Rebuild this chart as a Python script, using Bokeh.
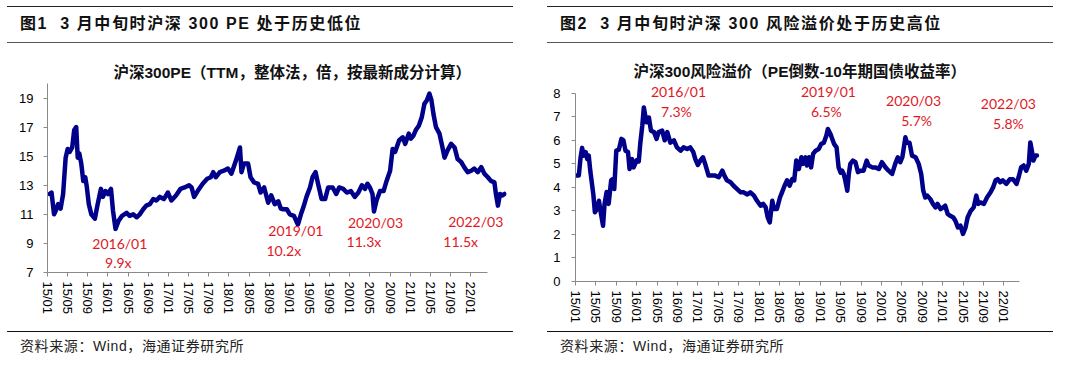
from bokeh.plotting import figure
from bokeh.layouts import column, row
from bokeh.models import Div, Range1d, FixedTicker, Label
from bokeh.embed import file_html
from bokeh.resources import INLINE

# ---------------- data ----------------
# x positions are in months on the chart's axis, counted from 15/01
x_tick_labels = ["15/01", "15/05", "15/09", "16/01", "16/05", "16/09", "17/01", "17/05",
                 "17/09", "18/01", "18/05", "18/09", "19/01", "19/05", "19/09", "20/01",
                 "20/05", "20/09", "21/01", "21/05", "21/09", "22/01"]

pe_x = [0.4, 0.8, 1.3, 1.7, 2.1, 2.6, 3.1, 3.6, 4.0, 4.4, 4.9, 5.3, 5.7, 6.0, 6.3, 6.7, 7.1, 7.5,
        7.8, 8.2, 8.7, 9.4, 9.9, 10.6, 11.0, 11.5, 12.0, 12.6, 13.0, 13.5, 14.1, 14.8, 15.7, 16.3,
        17.0, 17.7, 18.3, 19.0, 19.6, 20.3, 21.0, 21.6, 22.3, 23.1, 23.9, 24.6, 25.5, 26.4, 27.2,
        28.1, 28.6, 29.1, 29.8, 30.8, 31.7, 32.4, 32.9, 33.4, 34.2, 35.0, 35.8, 36.5, 37.4, 38.2,
        38.5, 39.0, 39.8, 40.3, 41.0, 41.8, 42.3, 43.0, 43.8, 44.4, 45.1, 45.8, 46.3, 46.8, 47.5,
        48.1, 48.9, 49.7, 50.3, 50.8, 51.4, 52.1, 52.6, 53.2, 53.7, 54.4, 55.1, 55.7, 56.6, 57.3,
        57.9, 58.7, 59.4, 60.2, 61.0, 61.7, 62.4, 63.0, 63.5, 64.0, 64.5, 64.8, 65.3, 66.0, 66.7,
        67.3, 68.0, 68.5, 69.0, 69.8, 70.5, 71.0, 71.7, 72.1, 72.6, 73.1, 73.7, 74.3, 74.8, 75.3,
        75.8, 76.2, 76.6, 77.1, 77.8, 78.3, 78.8, 79.4, 80.1, 80.8, 81.4, 82.1, 82.7, 83.4, 84.1,
        84.7, 85.4, 86.1, 86.7, 87.4, 88.0, 88.7, 89.0, 89.4, 89.8, 90.3, 90.7]
pe_y = [12.4, 12.5, 11.0, 11.3, 11.7, 11.4, 12.4, 14.9, 15.5, 15.3, 15.6, 16.8, 17.0, 14.9, 15.2,
        14.5, 13.3, 13.55, 12.9, 11.7, 11.0, 10.7, 11.6, 12.75, 12.2, 12.6, 12.4, 12.75, 11.25, 10.0,
        10.55, 10.9, 11.1, 10.9, 11.0, 10.8, 11.0, 11.35, 11.6, 11.7, 12.05, 11.95, 12.2, 12.05, 12.5,
        11.95, 12.3, 12.75, 12.85, 13.0, 12.85, 12.2, 12.6, 13.1, 13.45, 13.55, 13.9, 13.55, 13.9,
        14.0, 14.15, 13.8, 14.7, 15.6, 13.9, 14.5, 14.5, 13.55, 13.2, 13.1, 12.5, 12.85, 11.8, 12.3,
        11.7, 11.9, 11.4, 11.35, 11.35, 11.0, 10.9, 10.3, 11.0, 11.5, 12.2, 12.85, 13.55, 13.9, 13.1,
        12.05, 12.05, 12.85, 12.85, 12.4, 12.85, 12.75, 12.5, 12.6, 12.2, 12.5, 13.0, 12.75, 13.1,
        12.85, 12.4, 11.2, 11.95, 12.6, 12.6, 13.3, 14.0, 15.5, 15.3, 16.1, 16.3, 15.85, 16.55, 16.2,
        16.4, 16.8, 17.1, 17.7, 18.6, 18.85, 19.3, 18.85, 17.9, 17.0, 16.55, 15.75, 14.9, 15.4, 15.85,
        15.6, 14.8, 14.6, 14.25, 13.9, 14.0, 14.15, 13.9, 14.25, 13.8, 13.55, 13.3, 13.2, 12.4, 11.6,
        12.4, 12.3, 12.4]

rp_x = [0.2, 0.65, 1.0, 1.3, 1.6, 2.0, 2.3, 2.6, 2.9, 3.5, 3.8, 4.2, 4.6, 4.9, 5.4, 5.7, 6.1, 6.5,
        7.0, 7.3, 7.6, 8.0, 8.5, 9.0, 9.4, 9.8, 10.3, 10.6, 11.1, 11.4, 12.0, 12.4, 12.7, 13.1, 13.4,
        13.9, 14.4, 14.8, 15.4, 15.9, 16.3, 17.0, 17.5, 18.0, 18.6, 19.3, 19.9, 20.6, 21.2, 21.9,
        22.5, 23.1, 23.5, 24.0, 24.5, 25.0, 25.5, 26.1, 26.8, 27.4, 28.1, 28.8, 29.2, 29.7, 30.4,
        31.0, 31.7, 32.4, 33.0, 33.7, 34.3, 35.0, 35.6, 36.3, 36.8, 37.3, 37.7, 38.1, 38.6, 38.9,
        39.5, 40.1, 40.5, 41.0, 41.5, 42.0, 42.5, 42.9, 43.3, 43.8, 44.3, 44.6, 45.1, 45.4, 45.8,
        46.2, 46.6, 47.1, 47.7, 48.2, 48.7, 49.2, 49.5, 50.0, 50.7, 51.2, 51.6, 52.0, 52.3, 52.6,
        52.9, 53.3, 53.6, 53.9, 54.4, 54.9, 55.4, 55.9, 56.5, 57.1, 57.5, 58.2, 58.8, 59.5, 60.1,
        60.8, 61.4, 62.1, 62.7, 63.2, 63.7, 64.1, 64.4, 64.7, 65.0, 65.5, 66.0, 66.7, 67.3, 67.8,
        68.2, 68.6, 69.0, 69.6, 70.1, 70.6, 71.0, 71.6, 72.1, 72.5, 73.0, 73.5, 74.1, 74.5, 75.0,
        75.5, 76.0, 76.5, 76.9, 77.5, 78.1, 78.6, 79.0, 79.4, 80.1, 80.7, 81.4, 81.9, 82.4, 82.8,
        83.3, 83.8, 84.5, 85.2, 85.8, 86.5, 86.9, 87.4, 87.9, 88.4, 88.9, 89.2, 89.5, 89.8, 90.2,
        90.5]
rp_y = [4.5, 4.5, 5.28, 5.68, 5.35, 5.5, 5.2, 5.35, 4.7, 3.7, 2.94, 3.08, 3.43, 3.0, 2.37, 3.3,
        3.8, 3.3, 4.3, 4.35, 3.93, 5.56, 5.6, 6.06, 6.0, 5.56, 5.5, 4.78, 5.2, 4.85, 5.15, 5.1, 5.85,
        6.63, 7.4, 6.77, 6.97, 6.41, 6.35, 6.06, 6.35, 6.41, 6.0, 6.35, 5.9, 6.0, 5.7, 5.56, 5.7,
        5.63, 5.7, 5.5, 5.2, 4.95, 5.15, 5.28, 4.95, 4.5, 4.5, 4.5, 4.43, 4.71, 4.5, 4.3, 4.22, 4.07,
        3.93, 3.79, 3.79, 3.7, 3.79, 3.65, 3.43, 3.22, 3.3, 3.15, 2.72, 2.51, 3.43, 3.08, 3.08, 3.57,
        3.79, 4.07, 4.3, 4.07, 4.35, 4.3, 5.14, 4.78, 5.28, 5.0, 5.28, 4.93, 5.28, 4.85, 5.42, 5.56,
        5.63, 5.85, 5.9, 6.2, 6.48, 6.27, 5.85, 5.7, 4.85, 4.63, 4.71, 4.57, 4.3, 3.86, 4.57, 5.0,
        5.14, 5.07, 4.65, 4.71, 4.71, 5.14, 4.93, 4.85, 4.85, 4.78, 5.07, 4.85, 4.71, 4.57, 5.0,
        5.28, 5.07, 5.28, 5.7, 6.13, 5.9, 5.9, 5.35, 5.28, 5.0, 4.57, 3.86, 3.57, 3.65, 3.5, 3.3,
        3.15, 3.3, 3.08, 3.15, 3.22, 2.87, 2.79, 2.72, 2.58, 2.3, 2.37, 2.02, 2.3, 2.72, 3.0, 3.15,
        3.65, 3.3, 3.36, 3.3, 3.57, 3.79, 4.0, 4.3, 4.35, 4.22, 4.3, 4.15, 4.35, 4.35, 4.15, 4.43,
        4.85, 4.93, 4.71, 5.0, 5.91, 5.56, 5.14, 5.35, 5.35]

pe_ticks = [7, 9, 11, 13, 15, 17, 19]
rp_ticks = [0, 1, 2, 3, 4, 5, 6, 7, 8]

pe_ann_text = ["2016/01", "9.9x", "2019/01", "10.2x", "2020/03", "11.3x", "2022/03", "11.5x"]
rp_ann_text = ["2016/01", "7.3%", "2019/01", "6.5%", "2020/03", "5.7%", "2022/03", "5.8%"]

hdr_L = "图1  3 月中旬时沪深 300 PE 处于历史低位"
hdr_R = "图2  3 月中旬时沪深 300 风险溢价处于历史高位"
title_L = "沪深300PE（TTM，整体法，倍，按最新成分计算）"
title_R = "沪深300风险溢价（PE倒数-10年期国债收益率）"
source_txt = "资料来源：Wind，海通证券研究所"

# ---------------- layout / styles ----------------
# annotation anchor positions (chart units)
pe_ann_pos = [(14.35, 8.98), (14.05, 7.67), (49.3, 9.88), (46.9, 8.5),
              (65.1, 10.43), (62.8, 9.12), (85.0, 10.5), (82.0, 9.12)]
rp_ann_pos = [(20.2, 8.09), (19.8, 7.23), (49.6, 8.07), (49.2, 7.22),
              (66.3, 7.69), (66.9, 6.84), (84.9, 7.57), (84.9, 6.72)]

LINE_COLOR = "#00008B"
RED = "#E0191F"
AXIS_GRAY = "#8A8A8A"
LATIN_CJK = "'Liberation Sans', 'Noto Sans CJK SC', sans-serif"


def header_div(text, width):
    html = ('<div style="box-sizing:border-box;margin:6px 0 0 7px;width:506px;height:37px;'
            'border-top:1px solid #222;border-bottom:1.5px solid #555;'
            'padding-left:13px;line-height:34px;white-space:pre;'
            'font-family:%s;font-weight:bold;font-size:16px;letter-spacing:1.6px;color:#111;">%s</div>'
            % (LATIN_CJK, text))
    return Div(text=html, width=width, height=43, margin=(0, 0, 0, 0))


def footer_div(text, width):
    html = ('<div style="box-sizing:border-box;margin:0 0 0 7px;width:506px;height:31px;'
            'border-top:1.5px solid #111;padding-left:13px;line-height:29px;white-space:pre;'
            'font-family:%s;font-size:14px;letter-spacing:0.6px;color:#222;">%s</div>'
            % (LATIN_CJK, text))
    return Div(text=html, width=width, height=31, margin=(0, 0, 0, 0))


def make_chart(width, xs, ys, yr, ybounds, ticks, title, title_offset, title_standoff,
               ann_text, ann_pos, mb_left, mb_right, mb_top, mb_bottom, x_end, axis_end,
               ylab_standoff, xlab_standoff):
    p = figure(width=width, height=288, output_backend="svg", toolbar_location=None,
               x_range=Range1d(0, x_end), y_range=Range1d(*yr),
               min_border_left=mb_left, min_border_right=mb_right,
               min_border_top=mb_top, min_border_bottom=mb_bottom)
    p.outline_line_color = None
    p.grid.visible = False
    p.title.text = title
    p.title.align = "left"
    p.title.offset = title_offset
    p.title.standoff = title_standoff
    p.title.text_font = LATIN_CJK
    p.title.text_font_size = "15.5px"
    p.title.text_font_style = "bold"
    p.title.text_color = "#111111"

    p.line(xs, ys, line_width=4.5, line_color=LINE_COLOR, line_join="round", line_cap="round")

    for ax in (p.xaxis[0], p.yaxis[0]):
        ax.axis_line_color = AXIS_GRAY
        ax.major_tick_line_color = AXIS_GRAY
        ax.minor_tick_line_color = None
        ax.major_tick_in = 0
        ax.major_tick_out = 4
        ax.major_label_text_font = "Liberation Sans"
        ax.major_label_text_font_size = "13px"
        ax.major_label_text_color = "#000000"

    xtick_vals = [4 * i for i in range(len(x_tick_labels))]
    p.xaxis.ticker = FixedTicker(ticks=xtick_vals)
    p.xaxis.major_label_overrides = {v: lab for v, lab in zip(xtick_vals, x_tick_labels)}
    p.xaxis.major_label_orientation = "vertical"
    p.xaxis.major_label_standoff = xlab_standoff
    p.xaxis.bounds = (0, axis_end)
    p.yaxis.ticker = FixedTicker(ticks=ticks)
    p.yaxis.major_label_standoff = ylab_standoff
    p.yaxis.bounds = ybounds

    for txt, (ax_, ay_) in zip(ann_text, ann_pos):
        p.add_layout(Label(x=ax_, y=ay_, text=txt, text_color=RED, text_font="Lato",
                           text_font_size="14px", text_align="center", text_baseline="middle"))
    return p


pL = make_chart(540, pe_x, pe_y, (7, 20), (7, 20), pe_ticks, title_L, 66, 5,
                pe_ann_text, pe_ann_pos, 47, 34, 40, 59, 91.1, 87.3, 10, 5)
pR = make_chart(524, rp_x, rp_y, (0, 8.5), (0, 8), rp_ticks, title_R, 58, 3,
                rp_ann_text, rp_ann_pos, 35, 25, 38, 50, 91.0, 87.1, 11, 5)

colL = column(header_div(hdr_L, 540), pL, footer_div(source_txt, 540), spacing=0)
colR = column(header_div(hdr_R, 524), pR, footer_div(source_txt, 524), spacing=0)
layout = row(colL, colR, spacing=0)

open("out.html", "w").write(file_html(layout, INLINE))
